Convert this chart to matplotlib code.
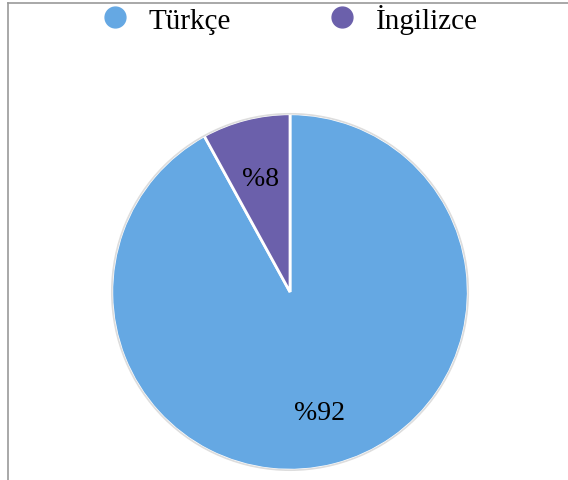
import matplotlib.pyplot as plt
from matplotlib.lines import Line2D

labels = ['Türkçe', 'İngilizce']
values = [92, 8]
colors = ['#65A8E3', '#6B60AB']

plt.rcParams['font.family'] = ['Liberation Serif', 'DejaVu Serif']

fig = plt.figure(figsize=(5.68, 4.81), dpi=100)
ax = fig.add_axes([0.1937, 0.0167, 0.6338, 0.7484])

wedges, texts = ax.pie(values, colors=colors, startangle=90, counterclock=False,
                       labels=['%' + str(v) for v in values], labeldistance=0.66,
                       wedgeprops=dict(edgecolor='white', linewidth=2),
                       textprops=dict(fontsize=20, ha='center', va='center'))
x0, y0 = texts[0].get_position()
texts[0].set_position((x0, y0 - 0.035))
ax.add_patch(plt.Circle((0, 0), 1.0, fill=False, edgecolor='#dddddd', lw=1.2))
ax.set_xlim(-1.01, 1.01)
ax.set_ylim(-1.01, 1.01)
ax.set_aspect('equal')

# legend across the top
handles = [Line2D([], [], marker='o', ls='', markersize=15, color=c) for c in colors]
fig.legend(handles, labels, loc='upper center', bbox_to_anchor=(0.509, 1.045), ncol=2,
           frameon=False, fontsize=21, handlelength=1.0, handletextpad=0.66,
           columnspacing=3.3)

# frame lines on top and left
fig.add_artist(Line2D([8/568, 1], [1 - 4/481, 1 - 4/481], color='#999999', lw=1.2))
fig.add_artist(Line2D([8/568, 8/568], [0, 1 - 4/481], color='#999999', lw=1.2))

fig.savefig('out.png', dpi=100)
